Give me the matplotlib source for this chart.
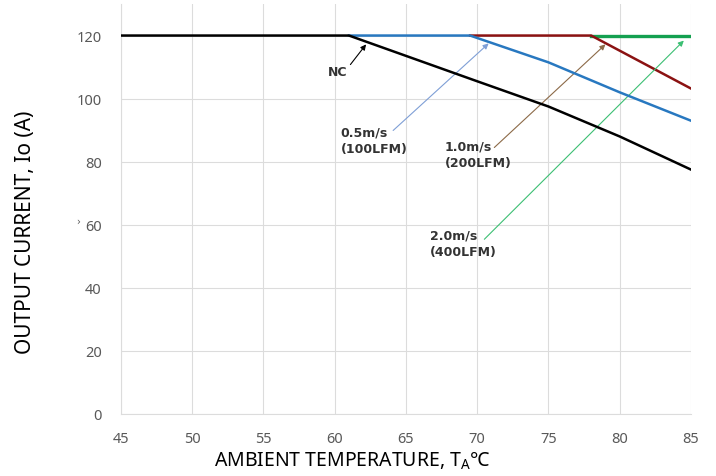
import matplotlib
matplotlib.use("Agg")
import matplotlib.pyplot as plt

# derating curves: ambient temperature (C) vs output current (A)
t_nc = [45, 61, 70, 75, 80, 85]
i_nc = [120, 120, 105.5, 97.5, 88, 77.5]

t_05 = [61, 69.5, 75, 80, 85]
i_05 = [120, 120, 111.5, 102, 93]

t_10 = [69.5, 78, 85]
i_10 = [120, 120, 103.2]

t_20 = [78, 85]
i_20 = [119.8, 119.8]

x_ticks = [45, 50, 55, 60, 65, 70, 75, 80, 85]
y_ticks = [0, 20, 40, 60, 80, 100, 120]

# label text, text anchor (x, y), arrow tail, arrow head, arrow colour
labels = ["NC", "0.5m/s\n(100LFM)", "1.0m/s\n(200LFM)", "2.0m/s\n(400LFM)"]
label_pos = [(60.2, 108.6), (60.4, 86.8), (67.7, 82.3), (66.7, 54.1)]
arrow_tail = [(61.1, 110.8), (64.1, 89.9), (71.2, 84.5), (70.5, 55.4)]
arrow_head = [(62.2, 117.2), (70.8, 117.5), (79.0, 117.2), (84.5, 118.4)]
arrow_col = ["black", "#7f9fd6", "#8c6a48", "#3cbf73"]
label_ha = ["center", "left", "left", "left"]

fig = plt.figure(figsize=(7.16, 4.77), dpi=100)
ax = fig.add_axes([0.169, 0.130, 0.796, 0.8595])

ax.plot(t_nc, i_nc, color="black", lw=1.8, zorder=5)
ax.plot(t_05, i_05, color="#2878c0", lw=1.8, zorder=4)
ax.plot(t_10, i_10, color="#8b1212", lw=1.8, zorder=3)
ax.plot(t_20, i_20, color="#14a050", lw=2.4, zorder=2)

for txt, pos, tail, head, col, ha in zip(labels, label_pos, arrow_tail,
                                         arrow_head, arrow_col, label_ha):
    ax.text(pos[0], pos[1], txt, ha=ha, va="center", fontsize=9,
            fontweight="bold", color="#333333", family="DejaVu Sans",
            linespacing=1.35)
    ax.annotate("", xy=head, xytext=tail,
                arrowprops=dict(arrowstyle="-|>", color=col, lw=0.8,
                                mutation_scale=8, shrinkA=0, shrinkB=0))

ax.set_xlim(45, 85)
ax.set_ylim(0, 130)
ax.set_xticks(x_ticks)
ax.set_yticks(y_ticks)
ax.grid(True, color="#dcdcdc", lw=0.8)
ax.set_axisbelow(True)
for s in ["top", "right"]:
    ax.spines[s].set_visible(False)
for s in ["left", "bottom"]:
    ax.spines[s].set_color("#dcdcdc")
ax.tick_params(length=0, labelsize=10.5, labelcolor="#595959")
ax.tick_params(axis="y", pad=14)
ax.tick_params(axis="x", pad=12)
for lab in ax.get_xticklabels() + ax.get_yticklabels():
    lab.set_family("Noto Sans")

ax.set_xlabel(r"AMBIENT TEMPERATURE, T$\mathregular{_A}$℃",
              fontsize=14, family="Noto Sans")
ax.set_ylabel("OUTPUT CURRENT, Io (A)", fontsize=15, family="Noto Sans")
ax.xaxis.set_label_coords(0.405, -0.087)
ax.yaxis.set_label_coords(-0.15, 0.446)

fig.text(78 / 716, 1 - 222 / 477, "›", fontsize=7, color="#595959",
         ha="center", va="center")

fig.savefig("out.png", dpi=100)
